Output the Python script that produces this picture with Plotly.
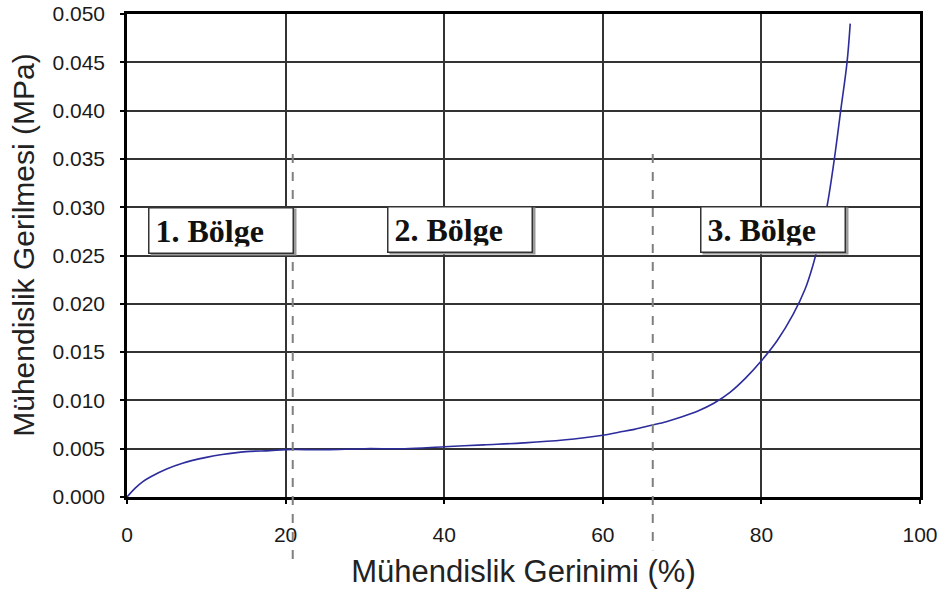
import plotly.graph_objects as go

# Engineering strain (%) and engineering stress (MPa)
strain = [0, 1, 2, 3, 5, 7, 10, 12, 15, 18, 20, 25, 30, 35, 40, 45, 50, 55,
          60, 62, 64, 66, 68, 70, 72, 74, 76, 78, 80, 82, 84, 85.5, 86.5, 87.5,
          88.3, 89.2, 90, 90.8, 91.2]
stress = [0, 0.0009, 0.0016, 0.0021, 0.0029, 0.0035, 0.0041, 0.0044, 0.0047,
          0.0048, 0.0049, 0.0049, 0.0050, 0.0050, 0.0052, 0.0054, 0.0056,
          0.0059, 0.0064, 0.0067, 0.0070, 0.0074, 0.0078, 0.0083, 0.0089,
          0.0097, 0.0108, 0.0123, 0.0141, 0.0162, 0.0189, 0.0215, 0.0240,
          0.0272, 0.0302, 0.0350, 0.0400, 0.0450, 0.0490]

# Region boundaries (strain %) and region labels
boundaries = [20.9, 66.3]
boundary_tops = [0.0355, 0.0355]
boundary_bottoms = [-0.145, -0.11]   # paper fraction below the x axis
region_labels = ["1. Bölge", "2. Bölge", "3. Bölge"]
label_x = [11.9, 42.0, 81.5]
label_y = [0.0276, 0.0277, 0.0277]

x_ticks = [0, 20, 40, 60, 80, 100]
y_ticks = [i * 0.005 for i in range(11)]
x_range = [0, 100]
y_range = [0, 0.05]

fig = go.Figure()
fig.add_trace(go.Scatter(
    x=strain, y=stress, mode="lines",
    line=dict(color="#2c2c9c", width=1.6, shape="spline", smoothing=1.0),
    showlegend=False, hoverinfo="skip",
))

for xb, top, bot in zip(boundaries, boundary_tops, boundary_bottoms):
    fig.add_shape(type="line", xref="x", yref="paper",
                  x0=xb, x1=xb, y0=top / y_range[1], y1=bot,
                  line=dict(color="#808080", width=2, dash="dash"))

for txt, lx, ly in zip(region_labels, label_x, label_y):
    # drop shadow
    fig.add_annotation(x=lx, y=ly, xref="x", yref="y", text="", showarrow=False,
                       width=143, height=44, bgcolor="#9a9a9a",
                       xshift=2, yshift=-2)
    fig.add_annotation(x=lx, y=ly, xref="x", yref="y", text="<b>%s</b>" % txt,
                       showarrow=False, width=131, height=32, align="left",
                       font=dict(family="Liberation Serif", size=32, color="#111"),
                       bgcolor="white", bordercolor="#333", borderwidth=1.5,
                       borderpad=6)

# y-axis title, set slightly above the plot's vertical centre
fig.add_annotation(x=-0.13, y=0.522, xref="paper", yref="paper",
                   xanchor="center", yanchor="middle",
                   text="Mühendislik Gerilmesi (MPa)", textangle=-90,
                   showarrow=False,
                   font=dict(family="Liberation Sans", size=30, color="#222"))

axis_common = dict(
    showline=True, linecolor="black", linewidth=2.5, mirror=True,
    showgrid=True, gridcolor="#333333", gridwidth=1.6,
    ticks="outside", ticklen=4, tickcolor="black", tickwidth=1.5,
    tickfont=dict(family="Liberation Sans", size=21, color="#1a1a1a"),
    zeroline=False, automargin=False,
)

fig.update_xaxes(range=x_range, tickvals=x_ticks, ticklabelstandoff=13,
                 title=dict(text="Mühendislik Gerinimi (%)", standoff=16,
                            font=dict(family="Liberation Sans", size=31, color="#222")),
                 **axis_common)
fig.update_yaxes(range=y_range, tickvals=y_ticks, tickformat=".3f",
                 ticklabelstandoff=11, **axis_common)

fig.update_layout(
    width=945, height=599,
    margin=dict(l=127, r=25, t=14, b=102),
    paper_bgcolor="white", plot_bgcolor="white",
)

fig.write_html("out.html")
